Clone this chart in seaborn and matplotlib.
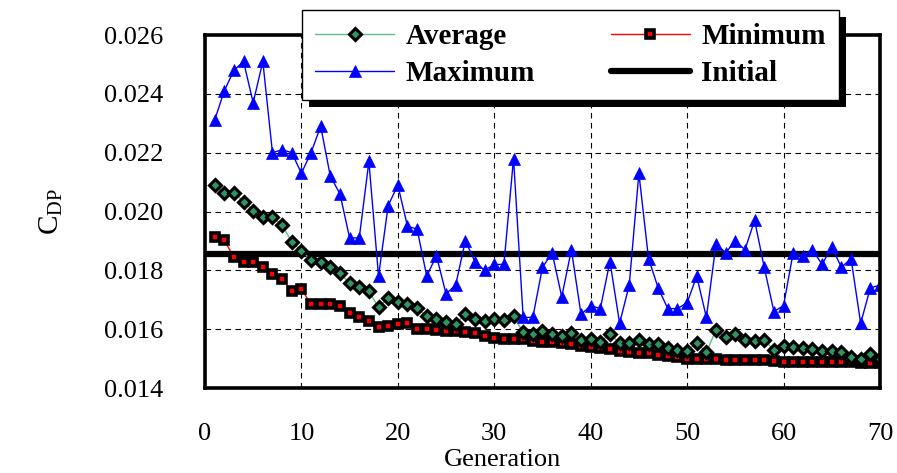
import matplotlib
matplotlib.use('Agg')
import matplotlib.pyplot as plt
import pandas as pd
import seaborn as sns
from matplotlib.patches import Rectangle

# data
generation = list(range(1, 71))

average = [0.0209, 0.02062, 0.02064, 0.02034, 0.02002, 0.0198, 0.0198, 0.01954, 0.01897, 0.01866,
           0.01835, 0.0183, 0.01812, 0.0179, 0.01756, 0.01745, 0.01729, 0.01674, 0.01705, 0.01692,
           0.01684, 0.01671, 0.01644, 0.01635, 0.01624, 0.01618, 0.01651, 0.01635, 0.01627, 0.01635,
           0.01632, 0.01644, 0.01589, 0.01584, 0.01593, 0.01584, 0.01578, 0.01586, 0.01564, 0.01567,
           0.01558, 0.01583, 0.01553, 0.01553, 0.01564, 0.01549, 0.01549, 0.01535, 0.01529, 0.01527,
           0.01553, 0.01521, 0.01598, 0.01572, 0.01584, 0.01564, 0.01561, 0.01564, 0.01529, 0.01544,
           0.01539, 0.01535, 0.01531, 0.01527, 0.01527, 0.01521, 0.01506, 0.015, 0.01515, 0.01498]

minimum = [0.01915, 0.01903, 0.01844, 0.0183, 0.0183, 0.0181, 0.01788, 0.01771, 0.0173, 0.01737,
           0.01684, 0.01684, 0.01684, 0.01678, 0.01655, 0.01641, 0.01627, 0.01609, 0.01612, 0.01616,
           0.0162, 0.01599, 0.01599, 0.01598, 0.01595, 0.01594, 0.0159, 0.01588, 0.01578, 0.01571,
           0.01567, 0.01567, 0.01565, 0.01561, 0.01556, 0.01556, 0.01552, 0.01548, 0.01542, 0.0154,
           0.01535, 0.01531, 0.01527, 0.01524, 0.0152, 0.01519, 0.01513, 0.01508, 0.01505, 0.015,
           0.015, 0.015, 0.01498, 0.01495, 0.01495, 0.01495, 0.01495, 0.01496, 0.01493, 0.0149,
           0.01489, 0.01489, 0.01489, 0.01489, 0.01489, 0.01489, 0.01487, 0.01485, 0.01485, 0.01485]

maximum = [0.0231, 0.0241, 0.0248, 0.0251, 0.0237, 0.0251, 0.0220, 0.0221, 0.0220, 0.0213,
           0.0220, 0.0229, 0.0212, 0.0206, 0.0191, 0.0191, 0.0217, 0.0178, 0.0202, 0.0209,
           0.0195, 0.0194, 0.0178, 0.0185, 0.0172, 0.0175, 0.0190, 0.0183, 0.0180, 0.0182,
           0.0182, 0.0218, 0.0164, 0.0164, 0.0181, 0.0186, 0.0171, 0.0187, 0.0165, 0.0168,
           0.0167, 0.0183, 0.0162, 0.0175, 0.0213, 0.0184, 0.0174, 0.0167, 0.0167, 0.0169,
           0.0178, 0.0164, 0.0189, 0.0186, 0.0190, 0.0187, 0.0197, 0.0181, 0.0166, 0.0168,
           0.0186, 0.0185, 0.0187, 0.0182, 0.0188, 0.0181, 0.0184, 0.0162, 0.0174, 0.0175]

initial = 0.01855

df = pd.DataFrame({'Generation': generation, 'Average': average,
                   'Minimum': minimum, 'Maximum': maximum})

sns.set_style('white')
plt.rcParams['font.family'] = ['Liberation Serif', 'DejaVu Serif']
plt.rcParams['text.color'] = 'black'

fig = plt.figure(figsize=(8.97, 4.73), dpi=100)
ax = fig.add_axes([0.2285, 0.1797, 0.7525, 0.7463])

ax.axhline(initial, color='black', lw=4.5, solid_capstyle='round', label='Initial', zorder=2)

sns.lineplot(data=df, x='Generation', y='Minimum', ax=ax, color='red', lw=1,
             marker='s', ms=6, mfc='red', mec='black', mew=2.6, label='Minimum', zorder=3)
sns.lineplot(data=df, x='Generation', y='Average', ax=ax, color='#5cbf8a', lw=1,
             marker='D', ms=6, mfc='#2f9460', mec='black', mew=2.2, label='Average', zorder=4)
sns.lineplot(data=df, x='Generation', y='Maximum', ax=ax, color='#0000ff', lw=1,
             marker='^', ms=8, mfc='#0000ff', mec='#0000ff', mew=0.5, label='Maximum', zorder=5)

ax.set_xlim(0, 70)
ax.set_ylim(0.014, 0.026)
ax.set_xticks(range(0, 71, 10))
ax.set_yticks([0.014, 0.016, 0.018, 0.020, 0.022, 0.024, 0.026])
ax.set_yticklabels(['%.3f' % v for v in ax.get_yticks()])

ax.grid(True, color='black', ls=(0, (5, 4)), lw=0.8)
ax.set_axisbelow(True)
for s in ax.spines.values():
    s.set_linewidth(2.6)
    s.set_color('black')
    s.set_zorder(6)

ax.tick_params(axis='both', direction='in', length=4, width=0.8, labelsize=19,
               colors='black', labelcolor='black')
ax.tick_params(axis='x', pad=25)
ax.tick_params(axis='y', pad=30)

ax.set_xlabel('Generation', fontsize=19, color='black')
ax.xaxis.set_label_coords(0.441, -0.172)
ax.set_ylabel('$\\mathregular{C_{DP}}$', fontsize=21, labelpad=28, color='black')

h, l = ax.get_legend_handles_labels()
order = ['Average', 'Maximum', 'Minimum', 'Initial']
hd = dict(zip(l, h))
leg = ax.legend([hd[k] for k in order], order, ncol=2, loc='upper left',
                bbox_to_anchor=(302 / 897, 1 - 10 / 473), bbox_transform=fig.transFigure,
                borderaxespad=0,
                prop={'family': 'Liberation Serif', 'weight': 'bold', 'size': 21},
                labelcolor='black',
                frameon=True, fancybox=False, framealpha=1, edgecolor='black',
                handlelength=2.7, handletextpad=0.4, columnspacing=2.6,
                borderpad=0.45, labelspacing=0.35)
leg.get_frame().set_linewidth(1)
leg.set_zorder(8)

# thick black drop shadow behind the legend box
fig.canvas.draw()
bb = leg.get_window_extent()
(x0, y0), (x1, y1) = ax.transAxes.inverted().transform([[bb.x0 + 7, bb.y0 - 7], [bb.x1 + 7, bb.y1 - 7]])
ax.add_patch(Rectangle((x0, y0), x1 - x0, y1 - y0, transform=ax.transAxes,
                       facecolor='black', edgecolor='none', clip_on=False, zorder=7.9))

fig.savefig('out.png', dpi=100)
